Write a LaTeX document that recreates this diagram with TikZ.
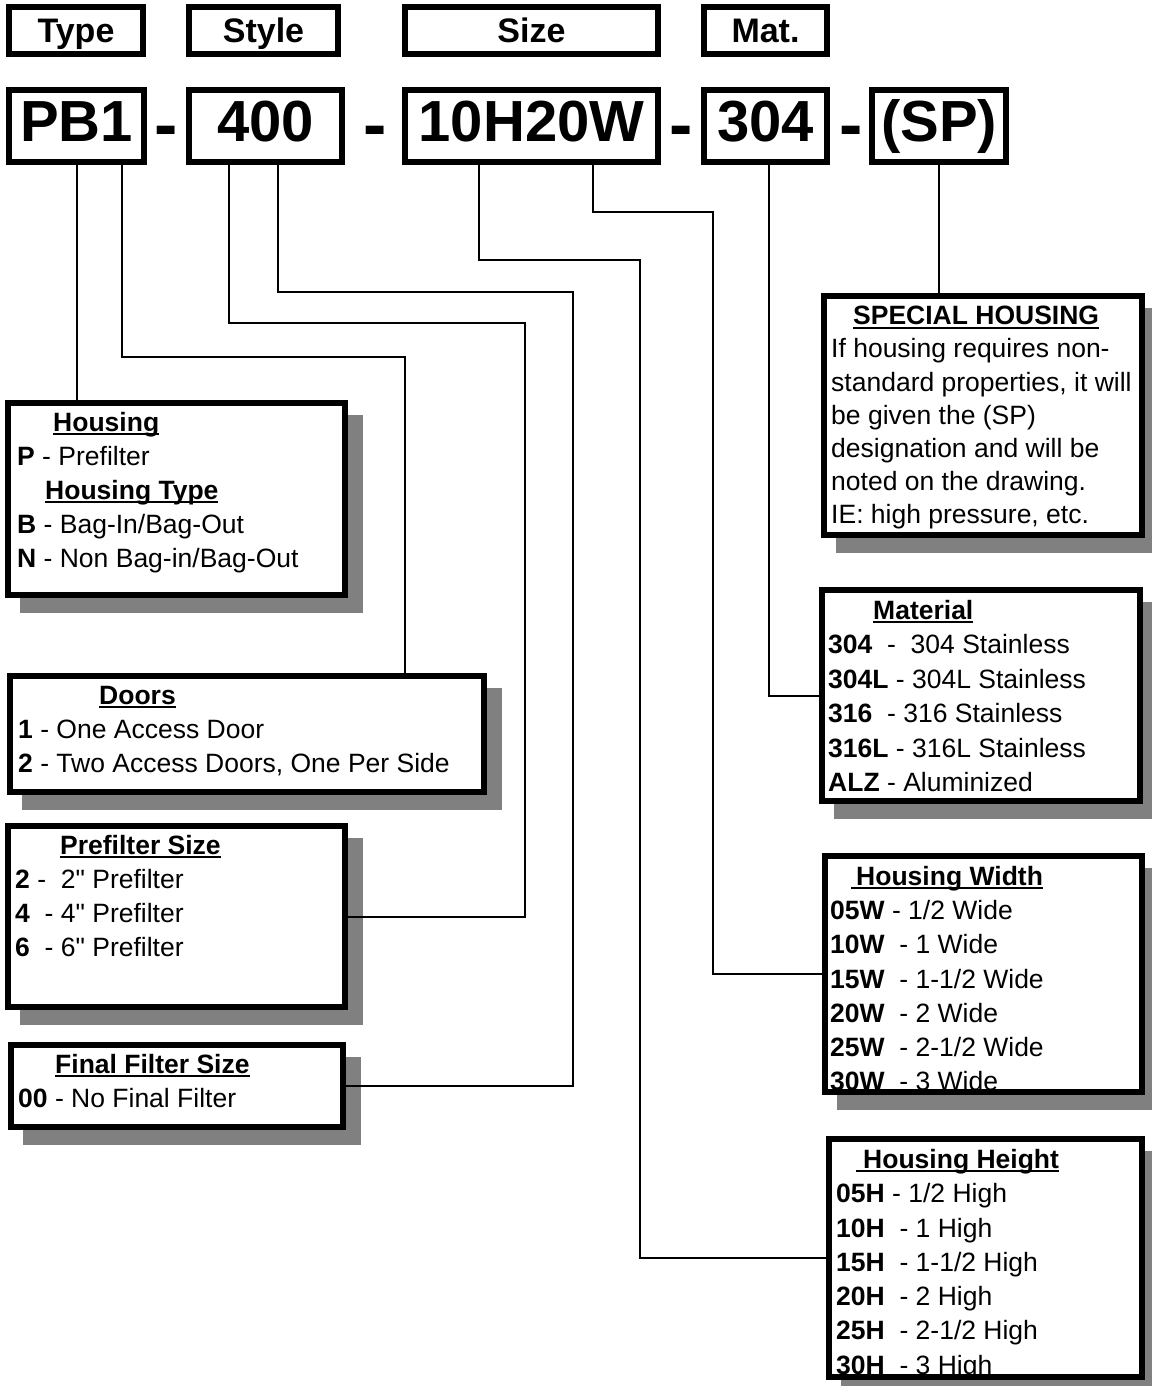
\documentclass[tikz,border=0pt]{standalone}
\usepackage{fontspec}
\setmainfont{Liberation Sans}[Ligatures=TeXOff]
\usepackage{tikz}

\definecolor{shade}{HTML}{808080}
\newsavebox{\ttlbox}
\newcommand{\ttl}[1]{\sbox{\ttlbox}{\textbf{#1}}\rlap{\rule[-4pt]{\wd\ttlbox}{2pt}}\usebox{\ttlbox}}

\tikzset{
  hdrbox/.style={draw, line width=6pt, minimum width=#1, minimum height=47pt, inner sep=0pt, outer sep=0pt,
    font=\fontsize{34}{34}\selectfont\bfseries, text height=24.5pt, text depth=0pt},
  codebox/.style={draw, line width=6pt, minimum width=#1, minimum height=72pt, inner sep=0pt, outer sep=0pt,
    font=\fontsize{58}{58}\selectfont\bfseries, text height=41.5pt, text depth=9.5pt},
  dashlbl/.style={inner sep=0pt, font=\fontsize{70}{70}\selectfont\bfseries, text height=50pt, text depth=0pt},
  panel/.style={draw, line width=6pt, fill=white, inner sep=0pt, outer sep=0pt,
    preaction={fill=shade, draw=shade, line width=6pt, transform canvas={xshift=15pt, yshift=-15pt}}},
  paneltxt/.style={anchor=north west, inner sep=0pt, align=left, font=\fontsize{26.5}{#1}\selectfont},
  paneltxt/.default=34,
  rim/.style={line width=6pt},
  link/.style={line width=2pt}
}

\begin{document}
\begin{tikzpicture}[x=1pt, y=-1pt]
\useasboundingbox (0,0) rectangle (1151,1386);
% header row
\node[hdrbox=134pt] (th) at (76,30.5) {Type};
\node[hdrbox=149pt] (sh) at (263.5,30.5) {Style};
\node[hdrbox=253pt] (zh) at (531.5,30.5) {Size};
\node[hdrbox=123pt] (mh) at (765.5,30.5) {Mat.};
% part number
\node[codebox=135pt] (pb) at (76.5,126) {PB1};
\node[codebox=153pt] (sty) at (265.5,126) {400};
\node[codebox=253pt] (siz) at (531.5,126) {10H20W};
\node[codebox=123pt] (mt) at (765.5,126) {304};
\node[codebox=134pt] (sp) at (939,126) {(SP)};
\node[dashlbl] (d1) at (166.5,124) {-};
\node[dashlbl] (d2) at (375,124) {-};
\node[dashlbl] (d3) at (681.5,124) {-};
\node[dashlbl] (d4) at (851.5,124) {-};
% left panels
\node[panel, minimum width=337pt, minimum height=192pt] (hous) at (176.5,499) {};
\node[paneltxt] (houst) at (17,412) {\hspace*{36pt}\ttl{Housing}\\
\textbf{P} - Prefilter\\
\hspace*{28pt}\ttl{Housing Type}\\
\textbf{B} - Bag-In/Bag-Out\\
\textbf{N} - Non Bag-in/Bag-Out};
\node[panel, minimum width=474pt, minimum height=116pt] (door) at (247,734) {};
\node[paneltxt] (doort) at (18,686) {\hspace*{81pt}\ttl{Doors}\\
\textbf{1} - One Access Door\\
\textbf{2} - Two Access Doors, One Per Side};
\node[panel, minimum width=337pt, minimum height=181pt] (pre) at (176.5,916.5) {};
\node[paneltxt] (pret) at (15,835) {\hspace*{45pt}\ttl{Prefilter Size}\\
\textbf{2} -\ \ 2" Prefilter\\
\textbf{4}\ \ - 4" Prefilter\\
\textbf{6}\ \ - 6" Prefilter};
\node[panel, minimum width=332pt, minimum height=82pt] (fin) at (177,1086) {};
\node[paneltxt] (fint) at (18,1054) {\hspace*{37pt}\ttl{Final Filter Size}\\
\textbf{00} - No Final Filter};
% right panels
\node[panel, minimum width=318pt, minimum height=239pt] (spec) at (983,415.5) {};
\node[paneltxt=33.2] (spect) at (831,306) {\hspace*{22pt}\ttl{SPECIAL HOUSING}\\
If housing requires non-\\
standard properties, it will\\
be given the (SP)\\
designation and will be\\
noted on the drawing.\\
IE: high pressure, etc.};
\node[panel, minimum width=318pt, minimum height=211pt] (matl) at (981,695.5) {};
\node[paneltxt=34.4] (matlt) at (828,600) {\hspace*{45pt}\ttl{Material}\\
\textbf{304}\ \ -\ \ 304 Stainless\\
\textbf{304L} - 304L Stainless\\
\textbf{316}\ \ - 316 Stainless\\
\textbf{316L} - 316L Stainless\\
\textbf{ALZ} - Aluminized};
\node[panel, minimum width=317pt, minimum height=236pt] (wid) at (983.5,974) {};
\node[paneltxt=34.2] (widt) at (830,866) {\hspace*{21pt}\ttl{\hspace{5pt}Housing Width}\\
\textbf{05W} - 1/2 Wide\\
\textbf{10W}\ \ - 1 Wide\\
\textbf{15W}\ \ - 1-1/2 Wide\\
\textbf{20W}\ \ - 2 Wide\\
\textbf{25W}\ \ - 2-1/2 Wide\\
\textbf{30W}\ \ - 3 Wide};
\draw[rim] (wid.north west) rectangle (wid.south east);
\node[panel, minimum width=313pt, minimum height=238pt] (hgt) at (985.5,1258) {};
\node[paneltxt=34.3] (hgtt) at (836,1149) {\hspace*{20pt}\ttl{\hspace{7pt}Housing Height}\\
\textbf{05H} - 1/2 High\\
\textbf{10H}\ \ - 1 High\\
\textbf{15H}\ \ - 1-1/2 High\\
\textbf{20H}\ \ - 2 High\\
\textbf{25H}\ \ - 2-1/2 High\\
\textbf{30H}\ \ - 3 High};
\draw[rim] (hgt.north west) rectangle (hgt.south east);
% leader lines
\draw[link] (pb.south) -- (pb.south |- hous.north);
\draw[link] ([xshift=45pt]pb.south) |- (405,357) -- ([xshift=158pt]door.north);
\draw[link] ([xshift=-36.5pt]sty.south) |- (525,323) |- (pre.east);
\draw[link] ([xshift=12.5pt]sty.south) |- (573,292) |- (fin.east);
\draw[link] ([xshift=-52.5pt]siz.south) |- (640,260) |- (hgt.west);
\draw[link] ([xshift=61.5pt]siz.south) |- (713,212) |- (wid.west);
\draw[link] ([xshift=3.5pt]mt.south) |- (matl.west);
\draw[link] (sp.south) -- (sp.south |- spec.north);
\end{tikzpicture}
\end{document}
